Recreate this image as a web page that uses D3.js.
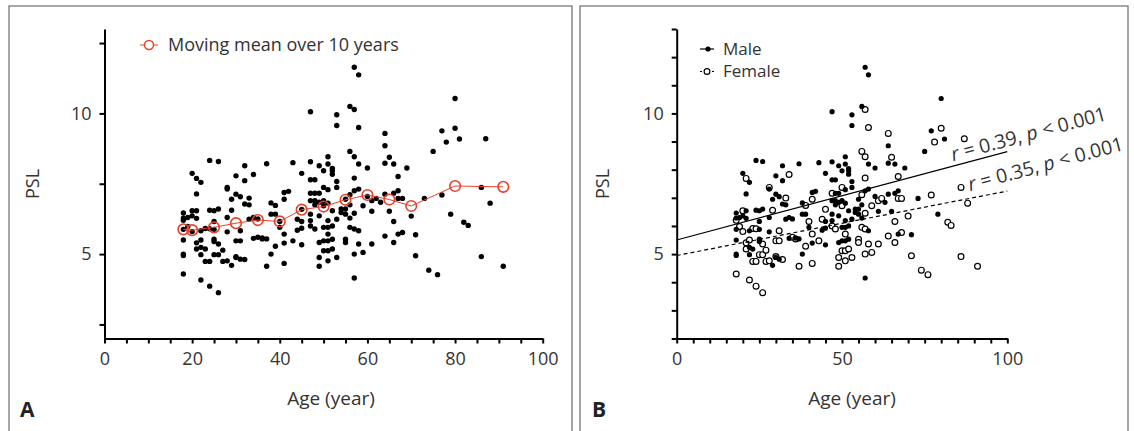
<!DOCTYPE html>
<html>
<head>
<meta charset="utf-8">
<script src="https://cdn.jsdelivr.net/npm/d3@7"></script>
<style>
  body { margin: 0; background: #fff; }
  svg { display: block; font-family: "Open Sans", sans-serif; }
  .axis path, .axis line { stroke: #000; stroke-width: 2; }
  .axis text { font-size: 18px; fill: #333; font-family: "Open Sans", sans-serif; }
</style>
</head>
<body>
<svg id="chart" width="1134" height="431"></svg>
<script>
// data: [age, PSL]
const malePoints = [
  [18, 6.46], [18, 6.28], [18, 5.88], [18, 5.5], [18, 5.0], [18, 4.95],
  [19, 6.3], [20, 7.87], [20, 6.36],
  [21, 7.14], [21, 6.54], [21, 6.27],
  [22, 7.55], [22, 5.83], [22, 5.24], [22, 4.98],
  [23, 5.18], [24, 8.33], [24, 6.56],
  [25, 6.54], [25, 6.16], [25, 5.88], [25, 5.53], [25, 5.45],
  [26, 8.29], [26, 6.6],
  [28, 7.31], [28, 6.3], [28, 5.79], [29, 6.95], [29, 4.6],
  [30, 7.78], [30, 7.13], [30, 4.88], [31, 7.04], [31, 4.82],
  [32, 8.14], [32, 7.61], [32, 6.78], [33, 6.75], [33, 6.24],
  [34, 6.3], [34, 5.56], [35, 6.25], [36, 5.57], [37, 8.21], [37, 5.54],
  [38, 6.82], [38, 6.42], [38, 5.0], [39, 6.42], [40, 5.95],
  [41, 7.19], [41, 5.39], [42, 7.23], [43, 8.25], [44, 5.85],
  [45, 7.87], [45, 6.16], [45, 5.92], [45, 5.33],
  [47, 10.06], [47, 8.28], [47, 7.64], [47, 6.9], [47, 6.42], [47, 6.19],
  [48, 7.64], [48, 7.16], [48, 6.9], [48, 6.75],
  [49, 8.14], [49, 7.16], [49, 6.84], [49, 6.36], [49, 5.41],
  [50, 7.96], [50, 6.9], [50, 5.95], [50, 5.47],
  [51, 8.46], [51, 8.2], [51, 7.29], [51, 6.81], [51, 6.19], [51, 5.95], [51, 5.47],
  [52, 8.04], [52, 7.96], [52, 7.84], [52, 6.54], [52, 6.0], [52, 5.53],
  [53, 9.95], [53, 9.57], [53, 7.58], [53, 7.37], [53, 6.24],
  [54, 6.6], [54, 6.48], [55, 6.95], [55, 6.6], [55, 6.42],
  [56, 10.25], [56, 6.75], [56, 6.28], [57, 11.64], [57, 7.25], [57, 4.15],
  [58, 11.37], [58, 8.2], [58, 7.31], [58, 5.83],
  [60, 8.06], [60, 7.05], [61, 6.52], [63, 6.84],
  [64, 8.85], [64, 8.23], [64, 7.13], [65, 6.52], [66, 8.2], [66, 7.16],
  [67, 7.25], [67, 5.71], [69, 8.06], [71, 5.69], [73, 6.98], [75, 8.65],
  [77, 9.38], [79, 6.42], [80, 10.53], [81, 9.09]
];

const femalePoints = [
  [18, 6.2], [18, 4.29], [19, 5.98], [20, 6.54], [20, 5.8],
  [21, 7.69], [21, 5.4], [21, 5.18], [22, 5.5], [22, 4.08],
  [23, 5.91], [23, 4.74], [24, 5.9], [24, 4.74], [24, 3.86], [25, 4.98],
  [26, 5.36], [26, 4.98], [26, 3.63], [27, 5.14], [27, 4.74],
  [28, 7.37], [28, 4.76], [29, 6.56], [30, 5.47], [30, 4.91],
  [31, 5.83], [31, 5.47], [32, 4.81], [33, 6.99], [34, 7.83], [35, 5.6],
  [36, 5.54], [37, 4.57], [39, 6.73], [39, 5.28], [40, 6.16],
  [41, 6.95], [41, 5.71], [41, 4.67], [43, 5.47], [44, 6.24], [45, 6.59],
  [47, 7.16], [47, 6.0], [48, 5.89], [49, 4.88], [49, 4.57],
  [50, 7.37], [50, 6.72], [50, 5.12], [51, 5.71], [51, 5.12], [51, 4.76],
  [52, 5.18], [53, 4.88], [55, 5.53], [55, 5.41],
  [56, 8.65], [56, 7.11], [56, 5.95],
  [57, 10.14], [57, 8.46], [57, 7.7], [57, 6.45], [57, 5.89], [57, 5.0],
  [58, 9.5], [58, 5.36], [59, 6.72], [59, 5.06], [61, 6.9], [61, 5.36],
  [62, 6.98], [64, 9.29], [64, 5.64], [65, 8.44], [66, 6.16], [66, 5.41],
  [67, 7.76], [67, 6.98], [68, 6.98], [68, 5.77], [70, 6.35], [71, 4.94],
  [74, 4.43], [76, 4.27], [77, 7.1], [78, 8.98], [80, 9.47], [82, 6.13],
  [83, 6.02], [86, 7.37], [86, 4.91], [87, 9.1], [88, 6.81], [91, 4.57]
];

// moving mean over 10 years
const meanAge = [18, 20, 25, 30, 35, 40, 45, 50, 55, 60, 65, 70, 80, 91];
const meanPSL = [5.88, 5.85, 5.95, 6.1, 6.21, 6.16, 6.58, 6.69, 6.93, 7.1, 6.94, 6.71, 7.42, 7.39];

// regression lines, PSL at age 0 and 100
const fitAges = [0, 100];
const maleFit = [5.5, 8.64];
const femaleFit = [4.95, 7.24];

const yTicksA = [2.5, 5, 7.5, 10, 12.5];
const yTicksB = d3.range(2, 14, 1);
const yLabels = [5, 10];
const xTicks = d3.range(0, 101, 5);
const xLabelsA = [0, 20, 40, 60, 80, 100];
const xLabelsB = [0, 50, 100];

const svg = d3.select('#chart');
const RED = '#e8412c';

// panel frames
svg.append('rect').attr('x', 9).attr('y', 6).attr('width', 563).attr('height', 500)
  .attr('fill', 'none').attr('stroke', '#777').attr('stroke-width', 1.3);
svg.append('rect').attr('x', 580).attr('y', 6).attr('width', 548).attr('height', 500)
  .attr('fill', 'none').attr('stroke', '#777').attr('stroke-width', 1.3);

const yScale = d3.scaleLinear().domain([2, 13]).range([338.5, 29]);

const drawAxes = (x, yTicks, xLabels, labelX) => {
  svg.append('g').attr('class', 'axis')
    .attr('transform', 'translate(0,' + yScale(2) + ')')
    .call(d3.axisBottom(x).tickValues(xTicks).tickSize(5).tickSizeOuter(0).tickPadding(9)
      .tickFormat((d) => xLabels.includes(d) ? d : ''));
  svg.append('g').attr('class', 'axis')
    .attr('transform', 'translate(' + x(0) + ',0)')
    .call(d3.axisLeft(yScale).tickValues(yTicks).tickSize(5).tickSizeOuter(0).tickPadding(8)
      .tickFormat((d) => yLabels.includes(d) ? d : ''));
  svg.append('text').attr('x', labelX).attr('y', 405)
    .attr('text-anchor', 'middle').attr('font-size', 19).attr('fill', '#333')
    .text('Age (year)');
};

const addPanelLabels = (psLx, letterX, letter) => {
  svg.append('text')
    .attr('transform', 'translate(' + psLx + ',184) rotate(-90)')
    .attr('text-anchor', 'middle').attr('font-size', 18).attr('fill', '#333')
    .text('PSL');
  svg.append('text').attr('x', letterX).attr('y', 417)
    .attr('font-size', 21).attr('font-weight', 'bold').attr('fill', '#222')
    .text(letter);
};

// ---------- panel A ----------
const xA = d3.scaleLinear().domain([0, 100]).range([104.5, 542.7]);
drawAxes(xA, yTicksA, xLabelsA, 331);
addPanelLabels(39, 20, 'A');

svg.append('g').selectAll('circle')
  .data(malePoints.concat(femalePoints))
  .join('circle')
  .attr('cx', (d) => xA(d[0]))
  .attr('cy', (d) => yScale(d[1]))
  .attr('r', 2.7)
  .attr('fill', '#000');

const meanData = meanAge.map((a, i) => [a, meanPSL[i]]);
svg.append('path').datum(meanData)
  .attr('fill', 'none').attr('stroke', RED).attr('stroke-width', 1)
  .attr('d', d3.line().x((d) => xA(d[0])).y((d) => yScale(d[1])));
svg.append('g').selectAll('circle')
  .data(meanData)
  .join('circle')
  .attr('cx', (d) => xA(d[0]))
  .attr('cy', (d) => yScale(d[1]))
  .attr('r', 5.3)
  .attr('fill', 'none').attr('stroke', RED).attr('stroke-width', 1.6);

// legend A
svg.append('line').attr('x1', 140).attr('x2', 158).attr('y1', 45).attr('y2', 45)
  .attr('stroke', RED).attr('stroke-width', 1);
svg.append('circle').attr('cx', 149).attr('cy', 45).attr('r', 4.5)
  .attr('fill', '#fff').attr('stroke', RED).attr('stroke-width', 1.5);
svg.append('text').attr('x', 168).attr('y', 45).attr('dy', '0.35em')
  .attr('font-size', 18).attr('fill', '#333')
  .text('Moving mean over 10 years');

// ---------- panel B ----------
const xB = d3.scaleLinear().domain([0, 100]).range([676.7, 1007.3]);
drawAxes(xB, yTicksB, xLabelsB, 852);
addPanelLabels(609, 592, 'B');

svg.append('g').selectAll('circle')
  .data(femalePoints)
  .join('circle')
  .attr('cx', (d) => xB(d[0]))
  .attr('cy', (d) => yScale(d[1]))
  .attr('r', 2.9)
  .attr('fill', '#fff').attr('stroke', '#000').attr('stroke-width', 1.2);

svg.append('g').selectAll('circle')
  .data(malePoints)
  .join('circle')
  .attr('cx', (d) => xB(d[0]))
  .attr('cy', (d) => yScale(d[1]))
  .attr('r', 2.6)
  .attr('fill', '#000');

const fitLine = d3.line().x((d) => xB(d[0])).y((d) => yScale(d[1]));
svg.append('path').datum(fitAges.map((a, i) => [a, maleFit[i]]))
  .attr('fill', 'none').attr('stroke', '#000').attr('stroke-width', 1.2)
  .attr('d', fitLine);
svg.append('path').datum(fitAges.map((a, i) => [a, femaleFit[i]]))
  .attr('fill', 'none').attr('stroke', '#000').attr('stroke-width', 1.2)
  .attr('stroke-dasharray', '4,3')
  .attr('d', fitLine);

const fitAt = (fit, age) => fit[0] + (fit[1] - fit[0]) * age / 100;
const addFitLabel = (fit, age, lift, rText) => {
  const t = svg.append('text')
    .attr('transform', 'translate(' + xB(age) + ',' + (yScale(fitAt(fit, age)) - lift) + ') rotate(-15)')
    .attr('font-size', 19.5).attr('fill', '#333');
  t.append('tspan').attr('font-style', 'italic').text('r');
  t.append('tspan').text(' = ' + rText + ', ');
  t.append('tspan').attr('font-style', 'italic').text('p');
  t.append('tspan').text(' < 0.001');
};
addFitLabel(maleFit, 83.6, 5, '0.39');
addFitLabel(femaleFit, 88.7, 7, '0.35');

// legend B
svg.append('line').attr('x1', 700).attr('x2', 714).attr('y1', 49).attr('y2', 49)
  .attr('stroke', '#000').attr('stroke-width', 1.2);
svg.append('circle').attr('cx', 708).attr('cy', 49).attr('r', 2.6).attr('fill', '#000');
svg.append('text').attr('x', 723).attr('y', 49).attr('dy', '0.35em')
  .attr('font-size', 17).attr('fill', '#333').text('Male');
svg.append('line').attr('x1', 700).attr('x2', 714).attr('y1', 71.5).attr('y2', 71.5)
  .attr('stroke', '#000').attr('stroke-width', 1.2).attr('stroke-dasharray', '2,2');
svg.append('circle').attr('cx', 707).attr('cy', 71.5).attr('r', 2.9)
  .attr('fill', '#fff').attr('stroke', '#000').attr('stroke-width', 1.2);
svg.append('text').attr('x', 723).attr('y', 71.5).attr('dy', '0.35em')
  .attr('font-size', 17).attr('fill', '#333').text('Female');
</script>
</body>
</html>
